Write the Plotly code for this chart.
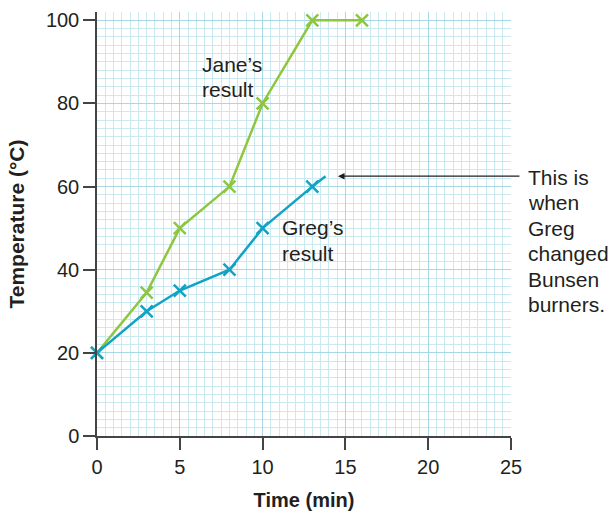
import plotly.graph_objects as go

# Heating curves: time (min) vs temperature (°C)
jane_time = [0, 3, 5, 8, 10, 13, 16]
jane_temp = [20, 34.5, 50, 60, 80, 100, 100]

greg_time = [0, 3, 5, 8, 10, 13]
greg_temp = [20, 30, 35, 40, 50, 60]
# Greg's line carries on past the last reading up to the burner change
greg_tail_time = [13, 13.8]
greg_tail_temp = [60, 62.5]

x_ticks = [0, 5, 10, 15, 20, 25]
y_ticks = [0, 20, 40, 60, 80, 100]

note_lines = ["This is", "when", "Greg", "changed", "Bunsen", "burners."]

GREEN = "#8dc63f"
BLUE = "#11a3c6"
INK = "#231f20"
FONT = "Liberation Sans, Arial, Helvetica, sans-serif"

fig = go.Figure()

fig.add_trace(go.Scatter(
    x=jane_time, y=jane_temp, mode="lines+markers",
    line=dict(color=GREEN, width=2.5),
    marker=dict(symbol="x-thin", size=12, line=dict(color=GREEN, width=2.5)),
    cliponaxis=False, showlegend=False,
))
fig.add_trace(go.Scatter(
    x=greg_tail_time, y=greg_tail_temp, mode="lines",
    line=dict(color=BLUE, width=2.5), showlegend=False,
))
fig.add_trace(go.Scatter(
    x=greg_time, y=greg_temp, mode="lines+markers",
    line=dict(color=BLUE, width=2.5),
    marker=dict(symbol="x-thin", size=12, line=dict(color=BLUE, width=2.5)),
    cliponaxis=False, showlegend=False,
))

annotations = []

def label(lines, x, y_first, step, xref="x"):
    for i, t in enumerate(lines):
        annotations.append(dict(
            text=t, x=x, y=y_first - i * step, xref=xref, yref="y",
            xanchor="left", yanchor="middle", showarrow=False,
            font=dict(family=FONT, size=21, color=INK),
        ))

label(["Jane\u2019s", "result"], 6.2, 89.3, 6.0)
label(["Greg\u2019s", "result"], 11.05, 50.2, 6.2)
label(note_lines, 1.037, 62.3, 6.15, xref="paper")

# Arrow pointing at the end of Greg's line
annotations.append(dict(
    x=14.55, y=greg_tail_temp[-1], ax=25.6, ay=greg_tail_temp[-1],
    xref="x", yref="y", axref="x", ayref="y",
    showarrow=True, arrowhead=2, arrowsize=1.1, arrowwidth=1.2,
    arrowcolor=INK, text="",
))

fig.update_layout(
    width=613, height=511,
    margin=dict(l=97, r=102, t=12, b=75),
    paper_bgcolor="white", plot_bgcolor="white",
    font=dict(family=FONT, size=20, color=INK),
    annotations=annotations,
    xaxis=dict(
        range=[0, 25], tickvals=x_ticks, ticks="outside", ticklen=12,
        tickwidth=1.5, tickcolor="#444", showline=True, linecolor="#444",
        linewidth=1.5, showgrid=True, gridcolor="#a6d8e6", gridwidth=1,
        zeroline=False, automargin=False,
        minor=dict(dtick=0.5, showgrid=True, gridcolor="#cbe9f1", gridwidth=1),
        tickfont=dict(size=20, color=INK),
        title=dict(text="<b>Time (min)</b>", font=dict(size=20, color=INK), standoff=16),
    ),
    yaxis=dict(
        range=[0, 102], tickvals=y_ticks, ticks="outside", ticklen=12,
        tickwidth=1.5, tickcolor="#444", showline=True, linecolor="#444",
        linewidth=1.5, showgrid=True, gridcolor="#a6d8e6", gridwidth=1,
        zeroline=False, automargin=False,
        minor=dict(dtick=2, showgrid=True, gridcolor="#cbe9f1", gridwidth=1),
        tickfont=dict(size=20, color=INK),
        title=dict(text="<b>Temperature (\u00b0C)</b>", font=dict(size=21, color=INK), standoff=16),
    ),
)

fig.write_html("out.html")
